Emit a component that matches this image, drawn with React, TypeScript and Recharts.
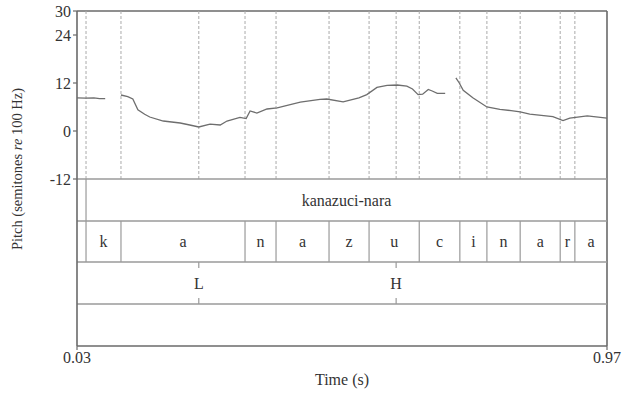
import React from "react";
import {
  ComposedChart,
  Line,
  XAxis,
  YAxis,
  ReferenceLine,
  ReferenceDot,
} from "recharts";

// Pitch track (semitones re 100 Hz); null = unvoiced gap
const pitchTimes = [
  0.03, 0.045, 0.06, 0.07, 0.08, 0.094,
  0.108, 0.12, 0.129, 0.138, 0.15, 0.159, 0.183, 0.213, 0.23, 0.246, 0.266, 0.284, 0.296,
  0.319, 0.33, 0.337, 0.349, 0.367, 0.385, 0.426, 0.461, 0.473, 0.502, 0.53, 0.544, 0.562,
  0.58, 0.598, 0.615, 0.625, 0.635, 0.643, 0.653, 0.66, 0.669, 0.683, 0.692,
  0.702, 0.708, 0.715, 0.732, 0.757, 0.78, 0.8, 0.816, 0.833, 0.874, 0.892, 0.904, 0.935, 0.97,
];
const pitchValues = [
  8.3, 8.2, 8.3, 8.1, 8.1, null,
  9.0, 8.6, 8.0, 5.3, 4.2, 3.5, 2.5, 2.0, 1.5, 1.0, 1.7, 1.5, 2.5,
  3.4, 3.1, 5.0, 4.5, 5.5, 5.8, 7.2, 7.9, 8.0, 7.3, 8.3, 9.1, 10.9,
  11.4, 11.5, 11.2, 10.5, 9.1, 9.2, 10.4, 10.0, 9.4, 9.4, null,
  13.3, 12.0, 10.2, 8.3, 6.0, 5.4, 5.1, 4.8, 4.2, 3.6, 2.6, 3.2, 3.8, 3.2,
];

// Text grid
const wordStart = 0.046;
const wordEnd = 0.97;
const wordLabel = "kanazuci-nara";
const phoneBounds = [0.046, 0.108, 0.328, 0.383, 0.477, 0.548, 0.637, 0.709, 0.757, 0.816, 0.887, 0.913, 0.97];
const phoneLabels = ["k", "a", "n", "a", "z", "u", "c", "i", "n", "a", "r", "a"];
const toneTimes = [0.246, 0.596];
const toneLabels = ["L", "H"];

// Axes
const yTicks = [30, 24, 12, 0, -12];
const xTicks = [0.03, 0.97];
const timeMin = 0.03;
const timeMax = 0.97;
const pitchTop = 30;
const pitchBottom = -12;
const tierLines = [-12, -22.5, -32.75, -43.25];
const frameBottom = -53.75;

const pitchData = pitchTimes.map((t, i) => ({ t, p: pitchValues[i] }));

const FONT = "'Liberation Serif', 'Times New Roman', serif";
const TXT = "#333";
const FRAME = "#6a6a6a";
const TIER = "#9a9a9a";
const BOUND = "#aaaaaa";

const wordMid = (wordStart + wordEnd) / 2;
const wordTierMid = (tierLines[0] + tierLines[1]) / 2;
const phoneTierMid = (tierLines[1] + tierLines[2]) / 2;
const toneTierMid = (tierLines[2] + tierLines[3]) / 2;
const tickLen = 1.5;

const textLabel = (value: string) => ({
  value,
  position: "center" as const,
  fill: TXT,
  fontSize: 16,
  fontFamily: FONT,
});

export default function App() {
  const pitchLines = [...phoneBounds.slice(0, -1), ...toneTimes];
  return (
    <div style={{ position: "absolute", left: 0, top: 0, width: 625, height: 393 }}>
      <ComposedChart
        width={625}
        height={393}
        margin={{ top: 11, right: 18, bottom: 7, left: 0 }}
        style={{ overflow: "visible" }}
      >
        <XAxis
          type="number"
          dataKey="t"
          domain={[timeMin, timeMax]}
          ticks={xTicks}
          tickFormatter={(v: number) => v.toFixed(2)}
          allowDataOverflow
          height={40}
          tickSize={4}
          tick={{ fill: TXT, fontSize: 16, fontFamily: FONT }}
          axisLine={{ stroke: FRAME, strokeWidth: 1.6 }}
          tickLine={{ stroke: FRAME, strokeWidth: 1.2 }}
          label={{
            value: "Time (s)",
            position: "insideBottom",
            offset: 1,
            fill: TXT,
            fontSize: 16,
            fontFamily: FONT,
          }}
        />
        <YAxis
          type="number"
          domain={[frameBottom, pitchTop]}
          ticks={yTicks}
          allowDataOverflow
          width={77}
          tickSize={4}
          interval={0}
          tick={{ fill: TXT, fontSize: 16, fontFamily: FONT }}
          axisLine={{ stroke: FRAME, strokeWidth: 1.6 }}
          tickLine={{ stroke: FRAME, strokeWidth: 1.2 }}
          label={{
            content: () => (
              <text
                x={17}
                y={169}
                transform="rotate(-90 17 169)"
                textAnchor="middle"
                dominantBaseline="central"
                fill={TXT}
                fontSize={14.5}
                fontFamily={FONT}
              >
                Pitch (semitones <tspan fontStyle="italic">re</tspan> 100 Hz)
              </text>
            ),
          }}
        />

        {/* frame top & right */}
        <ReferenceLine y={pitchTop} stroke={FRAME} strokeWidth={1.6} />
        <ReferenceLine x={timeMax} stroke={FRAME} strokeWidth={1.6} />

        {/* boundary lines in pitch area */}
        {pitchLines.map((t, i) => (
          <ReferenceLine
            key={"pb" + i}
            segment={[{ x: t, y: pitchBottom }, { x: t, y: pitchTop }]}
            stroke={BOUND}
            strokeWidth={1}
            strokeDasharray="3 2"
          />
        ))}

        {/* tier horizontal lines */}
        {tierLines.map((y, i) => (
          <ReferenceLine key={"tl" + i} y={y} stroke={TIER} strokeWidth={1.3} />
        ))}

        {/* word tier */}
        <ReferenceLine
          segment={[{ x: wordStart, y: tierLines[0] }, { x: wordStart, y: tierLines[2] }]}
          stroke={TIER}
          strokeWidth={1.2}
        />
        <ReferenceDot x={wordMid} y={wordTierMid} r={0} stroke="none" fill="none" label={textLabel(wordLabel)} />

        {/* phone tier */}
        {phoneBounds.slice(1, -1).map((t, i) => (
          <ReferenceLine
            key={"ph" + i}
            segment={[{ x: t, y: tierLines[1] }, { x: t, y: tierLines[2] }]}
            stroke={TIER}
            strokeWidth={1.2}
          />
        ))}
        {phoneLabels.map((lab, i) => (
          <ReferenceDot
            key={"pl" + i}
            x={(phoneBounds[i] + phoneBounds[i + 1]) / 2}
            y={phoneTierMid}
            r={0}
            stroke="none"
            fill="none"
            label={textLabel(lab)}
          />
        ))}

        {/* tone tier */}
        {toneTimes.map((t, i) => (
          <ReferenceLine
            key={"tt" + i}
            segment={[{ x: t, y: tierLines[2] }, { x: t, y: tierLines[2] - tickLen }]}
            stroke={TIER}
            strokeWidth={1.2}
          />
        ))}
        {toneTimes.map((t, i) => (
          <ReferenceLine
            key={"tb" + i}
            segment={[{ x: t, y: tierLines[3] + tickLen }, { x: t, y: tierLines[3] }]}
            stroke={TIER}
            strokeWidth={1.2}
          />
        ))}
        {toneLabels.map((lab, i) => (
          <ReferenceDot
            key={"tn" + i}
            x={toneTimes[i]}
            y={toneTierMid}
            r={0}
            stroke="none"
            fill="none"
            label={textLabel(lab)}
          />
        ))}

        <Line
          data={pitchData}
          dataKey="p"
          type="linear"
          stroke="#6e6e6e"
          strokeWidth={1.3}
          dot={false}
          connectNulls={false}
          isAnimationActive={false}
        />
      </ComposedChart>
    </div>
  );
}
